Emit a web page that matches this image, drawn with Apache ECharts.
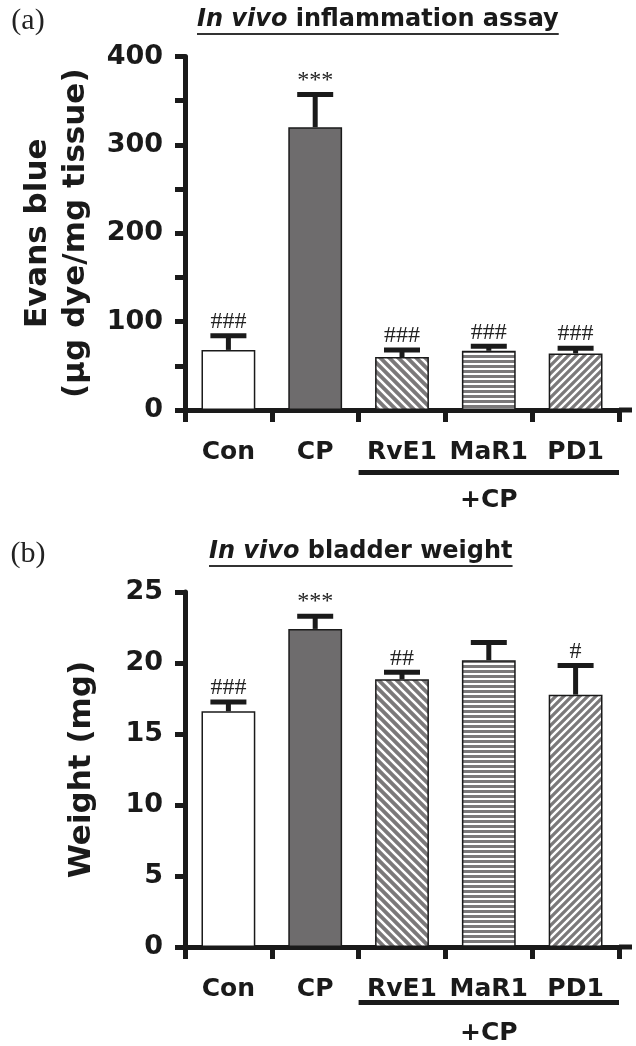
<!DOCTYPE html>
<html>
<head>
<meta charset="utf-8">
<script src="https://cdn.jsdelivr.net/npm/echarts@6/dist/echarts.min.js"></script>
<style>
  html, body { margin: 0; padding: 0; background: #fff; }
  #chart { width: 636px; height: 1046px; }
</style>
</head>
<body>
<div id="chart"></div>
<script>
// ---------------- data ----------------
const categories = ['Con', 'CP', 'RvE1', 'MaR1', 'PD1'];
const groupLabel = '+CP';

const evansMean = [68, 320, 60, 67, 64];
const evansErr = [16, 37, 8, 5, 6];
const evansMarks = ['###', '***', '###', '###', '###'];
const evansTicks = [0, 100, 200, 300, 400];

const weightMean = [16.6, 22.4, 18.85, 20.2, 17.77];
const weightErr = [0.65, 0.9, 0.5, 1.25, 2.05];
const weightMarks = ['###', '***', '##', '', '#'];
const weightTicks = [0, 5, 10, 15, 20, 25];

// ---------------- layout ----------------
const INK = '#1a1a1a';
const SANS = "'DejaVu Sans', sans-serif";
const SERIF = "'Liberation Serif', 'Times New Roman', serif";
const GL = 185, GW = 434;
const A_TOP = 56.5, A_H = 353.5;
const B_TOP = 592, B_H = 355;
const CAT_W = GW / categories.length;

// ---------------- patterns ----------------
function makeCanvas(w, h) {
  const c = document.createElement('canvas');
  c.width = w; c.height = h;
  return c;
}
const STRIPE = '#7b797a';
function diagPattern(s, whiteW, dir) {
  const c = makeCanvas(s, s), g = c.getContext('2d');
  g.fillStyle = STRIPE; g.fillRect(0, 0, s, s);
  g.strokeStyle = '#ffffff'; g.lineWidth = whiteW;
  g.beginPath();
  if (dir === 'back') {           // "\" stripes
    g.moveTo(-s, -s); g.lineTo(2 * s, 2 * s);
    g.moveTo(-s, 0); g.lineTo(s, 2 * s);
    g.moveTo(0, -s); g.lineTo(2 * s, s);
  } else {                         // "/" stripes
    g.moveTo(-s, 2 * s); g.lineTo(2 * s, -s);
    g.moveTo(-s, s); g.lineTo(s, -s);
    g.moveTo(0, 2 * s); g.lineTo(2 * s, 0);
  }
  g.stroke();
  return { image: c, repeat: 'repeat' };
}
function horizPattern(period, grayH) {
  const c = makeCanvas(4, period), g = c.getContext('2d');
  g.fillStyle = '#ffffff'; g.fillRect(0, 0, 4, period);
  g.fillStyle = STRIPE; g.fillRect(0, 0, 4, grayH);
  return { image: c, repeat: 'repeat' };
}
const fills = [
  '#ffffff',
  '#6e6c6d',
  diagPattern(9, 2.6, 'back'),
  horizPattern(5, 3),
  diagPattern(8, 2.4, 'fwd')
];

function barData(vals) {
  return vals.map((v, i) => ({
    value: v,
    itemStyle: { color: fills[i], borderColor: INK, borderWidth: 1.5 }
  }));
}

function errRenderer(means, errs, marks) {
  return function (params, api) {
    const i = params.dataIndex;
    const x = api.coord([i, 0])[0];
    const yBase = api.coord([i, means[i]])[1];
    const yTop = api.coord([i, means[i] + errs[i]])[1];
    return {
      type: 'group',
      children: [
        { type: 'rect', shape: { x: x - 2.5, y: yTop, width: 5, height: yBase - yTop }, style: { fill: INK } },
        { type: 'rect', shape: { x: x - 18, y: yTop - 2.5, width: 36, height: 5 }, style: { fill: INK } },
        { type: 'text', style: { text: marks[i], x: x, y: yTop - 2, align: 'center', verticalAlign: 'bottom',
            font: '24px ' + SERIF, fill: '#222' } }
      ]
    };
  };
}

function xAxisCfg(gi) {
  return {
    type: 'category', gridIndex: gi, data: categories,
    axisLine: { lineStyle: { color: INK, width: 5 } },
    axisTick: { show: true, length: 12, lineStyle: { color: INK, width: 5 } },
    axisLabel: { interval: 0, color: INK, fontFamily: SANS, fontWeight: 'bold', fontSize: 25, margin: 30 }
  };
}
function yAxisCfg(gi, ticks, name, gap, minor) {
  return {
    type: 'value', gridIndex: gi, min: ticks[0], max: ticks[ticks.length - 1],
    interval: ticks[1] - ticks[0],
    name: name, nameLocation: 'middle', nameGap: gap,
    nameTextStyle: { color: INK, fontFamily: SANS, fontWeight: 'bold', fontSize: 31, lineHeight: 38 },
    axisLine: { show: true, lineStyle: { color: INK, width: 5 } },
    axisTick: { show: true, length: 10, lineStyle: { color: INK, width: 5 } },
    minorTick: { show: minor, splitNumber: 2, length: 10, lineStyle: { color: INK, width: 5 } },
    splitLine: { show: false },
    axisLabel: { color: INK, fontFamily: SANS, fontWeight: 'bold', fontSize: 27, margin: 22 }
  };
}

// ---------- title text measuring ----------
const mctx = document.createElement('canvas').getContext('2d');
function textW(font, s) { mctx.font = font; return mctx.measureText(s).width; }
const TITLE_FS = 24;
const fItal = 'italic bold ' + TITLE_FS + 'px ' + SANS;
const fBold = 'bold ' + TITLE_FS + 'px ' + SANS;

function titleGraphic(x0, yBase, rest) {
  const w1 = textW(fItal, 'In vivo');
  const w2 = textW(fBold, rest);
  return [
    { type: 'text', left: x0, top: yBase - 22, style: { text: 'In vivo', font: fItal, fill: INK } },
    { type: 'text', left: x0 + w1, top: yBase - 22, style: { text: rest, font: fBold, fill: INK } },
    { type: 'rect', left: x0, top: yBase + 3, shape: { width: w1 + w2, height: 2 }, style: { fill: '#333' } }
  ];
}
function groupGraphic(axisY, lineY, textY) {
  const x1 = GL + 2 * CAT_W, x2 = GL + GW;
  return [
    { type: 'rect', left: x1, top: lineY, shape: { width: x2 - x1, height: 5 }, style: { fill: INK } },
    { type: 'text', x: (x1 + x2) / 2, y: textY,
      style: { text: groupLabel, font: 'bold 25px ' + SANS, fill: INK, align: 'center', verticalAlign: 'middle' } },
    // axis line runs a little past the last tick
    { type: 'rect', left: x2, top: axisY - 2.5, shape: { width: 13, height: 5 }, style: { fill: INK } }
  ];
}

const chart = echarts.init(document.getElementById('chart'), null, { renderer: 'canvas' });
chart.setOption({
  animation: false,
  backgroundColor: '#ffffff',
  grid: [
    { left: GL, top: A_TOP, width: GW, height: A_H },
    { left: GL, top: B_TOP, width: GW, height: B_H }
  ],
  xAxis: [xAxisCfg(0), xAxisCfg(1)],
  yAxis: [
    yAxisCfg(0, evansTicks, 'Evans blue\n(µg dye/mg tissue)', 90, true),
    yAxisCfg(1, weightTicks, 'Weight (mg)', 84, false)
  ],
  series: [
    { type: 'bar', xAxisIndex: 0, yAxisIndex: 0, barWidth: '62%', data: barData(evansMean) },
    { type: 'custom', xAxisIndex: 0, yAxisIndex: 0, data: evansMean.map((v, i) => [i, v]),
      renderItem: errRenderer(evansMean, evansErr, evansMarks), z: 3 },
    { type: 'bar', xAxisIndex: 1, yAxisIndex: 1, barWidth: '62%', data: barData(weightMean) },
    { type: 'custom', xAxisIndex: 1, yAxisIndex: 1, data: weightMean.map((v, i) => [i, v]),
      renderItem: errRenderer(weightMean, weightErr, weightMarks), z: 3 }
  ],
  graphic: [
    { type: 'text', x: 28, y: 21, style: { text: '(a)', font: '30px ' + SERIF, fill: '#222', align: 'center', verticalAlign: 'middle' } },
    { type: 'text', x: 28, y: 554, style: { text: '(b)', font: '30px ' + SERIF, fill: '#222', align: 'center', verticalAlign: 'middle' } },
    ...titleGraphic(197, 30, ' inflammation assay'),
    ...titleGraphic(209, 562, ' bladder weight'),
    ...groupGraphic(A_TOP + A_H, 470, 500),
    ...groupGraphic(B_TOP + B_H, 1000, 1033)
  ]
});
</script>
</body>
</html>
